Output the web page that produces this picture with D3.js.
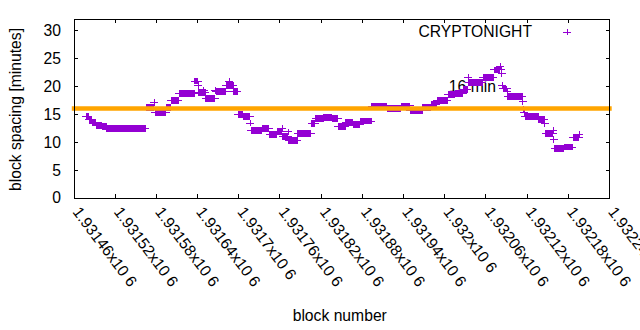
<!DOCTYPE html>
<html><head><meta charset="utf-8">
<script src="https://cdn.jsdelivr.net/npm/d3@7"></script>
<style>
html,body{margin:0;padding:0;background:#fff;}
text{font-family:"Liberation Sans",Arial,sans-serif;font-size:15.7px;fill:#000;}
</style></head><body>
<svg id="chart" width="640" height="330"></svg>
<script>
// ---- data ----
const seriesName = "CRYPTONIGHT";
// runs of consecutive blocks sharing the same block spacing value [minutes]
const runFirst = [1931478,1931482,1931487,1931493,1931501,1931508,1931565,1931577,1931578,1931595,1931602,1931613,1931636,1931641,1931642,1931649,1931652,1931666,1931667,1931682,1931686,1931693,1931699,1931707,1931717,1931718,1931734,1931745,1931756,1931763,1931764,1931772,1931773,1931786,1931806,1931812,1931824,1931836,1931845,1931856,1931867,1931877,1931894,1931916,1931937,1931950,1931968,1931980,1931989,1932005,1932015,1932027,1932034,1932035,1932056,1932072,1932081,1932082,1932083,1932084,1932085,1932091,1932092,1932114,1932115,1932116,1932117,1932137,1932146,1932147,1932158,1932159,1932160,1932174,1932187,1932196];
const runLast = [1931481,1931486,1931492,1931500,1931507,1931564,1931576,1931577,1931594,1931601,1931612,1931635,1931640,1931641,1931651,1931649,1931665,1931666,1931681,1931692,1931686,1931698,1931706,1931716,1931717,1931733,1931744,1931755,1931762,1931763,1931771,1931772,1931785,1931805,1931811,1931823,1931835,1931844,1931855,1931866,1931876,1931893,1931915,1931936,1931949,1931967,1931979,1931988,1932004,1932014,1932026,1932033,1932034,1932055,1932071,1932080,1932081,1932082,1932083,1932084,1932090,1932091,1932113,1932114,1932115,1932116,1932136,1932145,1932146,1932157,1932158,1932159,1932173,1932186,1932195,1932196];
const runSpacing = [14.5,14.1,13.4,13.0,12.8,12.45,16.25,17.1,15.25,16.2,17.45,18.7,20.9,20.1,18.8,19.3,17.85,19.25,19.0,20.05,20.8,19.0,14.95,14.5,13.4,12.05,12.4,11.4,11.9,12.5,10.95,11.8,10.35,11.6,13.3,14.15,14.45,14.2,12.8,13.55,13.15,13.75,16.3,16.05,16.45,15.7,16.15,16.75,17.4,18.5,18.75,19.45,21.55,20.7,21.55,22.9,23.5,22.9,22.3,20.2,19.5,19.05,18.2,17.25,15.9,15.3,14.6,14.1,13.3,11.5,12.1,10.4,8.8,9.1,10.85,11.3];

const thresholdMinutes = 16;
const thresholdLabel = "16 min";
const thresholdLabelBlock = 1932006;
const thresholdLabelValue = 20;

const xDomain = [1931460, 1932240];
const yDomain = [0, 32];
const xTickBlocks = [1931460,1931520,1931580,1931640,1931700,1931760,1931820,1931880,1931940,1932000,1932060,1932120,1932180,1932240];
const xTickLabels = ["1.93146x10 6","1.93152x10 6","1.93158x10 6","1.93164x10 6","1.9317x10 6","1.93176x10 6","1.93182x10 6","1.93188x10 6","1.93194x10 6","1.932x10 6","1.93206x10 6","1.93212x10 6","1.93218x10 6","1.93224x10 6"];
const yTicks = [0,5,10,15,20,25,30];
const xTitle = "block number";
const yTitle = "block spacing [minutes]";

// ---- layout ----
const svg = d3.select("#chart");
svg.append("rect").attr("width",640).attr("height",330).attr("fill","#fff");
const L = 74, R = 609.5, T = 19, B = 198;
const x = d3.scaleLinear().domain(xDomain).range([L, R]);
const y = d3.scaleLinear().domain(yDomain).range([B, T]);
const purple = "#9400d3", orange = "#ffa500";

// expand runs to points
const points = [];
runFirst.forEach((f, i) => {
  for (let b = f; b <= runLast[i]; b++) points.push({block: b, spacing: runSpacing[i]});
});

// threshold label (behind)
svg.append("text").attr("x", x(thresholdLabelBlock)).attr("y", y(thresholdLabelValue))
  .attr("dy","0.35em").text(thresholdLabel);

// points
const hx = 4, hy = 3.4;
const plusPath = d => {
  const px = x(d.block), py = y(d.spacing);
  return `M${px-hx},${py}H${px+hx}M${px},${py-hy}V${py+hy}`;
};
svg.append("path").attr("d", points.map(plusPath).join(""))
  .attr("stroke", purple).attr("stroke-width",1).attr("fill","none")
  .attr("shape-rendering","crispEdges");

// threshold line
svg.append("line").attr("x1", x(xDomain[0])).attr("x2", x(xDomain[1]))
  .attr("y1", y(thresholdMinutes)).attr("y2", y(thresholdMinutes))
  .attr("stroke", orange).attr("stroke-width", 4.4).attr("stroke-linecap","square");

// border
const g = svg.append("g").attr("shape-rendering","crispEdges");
g.append("rect").attr("x", L).attr("y", T).attr("width", R-L).attr("height", B-T)
  .attr("fill","none").attr("stroke","#000").attr("stroke-width",1);

// ticks (inward, mirrored)
const tk = 4;
xTickBlocks.forEach(v => {
  g.append("line").attr("x1",x(v)).attr("x2",x(v)).attr("y1",B).attr("y2",B-tk).attr("stroke","#000");
  g.append("line").attr("x1",x(v)).attr("x2",x(v)).attr("y1",T).attr("y2",T+tk).attr("stroke","#000");
});
yTicks.forEach(v => {
  g.append("line").attr("x1",L).attr("x2",L+tk).attr("y1",y(v)).attr("y2",y(v)).attr("stroke","#000");
  g.append("line").attr("x1",R).attr("x2",R-tk).attr("y1",y(v)).attr("y2",y(v)).attr("stroke","#000");
});

// y tick labels
yTicks.forEach(v => {
  svg.append("text").attr("x", 61).attr("y", y(v)).attr("dy","0.35em")
    .attr("text-anchor","end").text(v);
});

// x tick labels, rotated
xTickBlocks.forEach((v, i) => {
  const tx = x(v) - 2, ty = 212;
  svg.append("text").attr("transform", `translate(${tx},${ty}) rotate(53)`)
    .attr("text-anchor","start").text(xTickLabels[i]);
});

// axis titles
svg.append("text").attr("x", (L+R)/2 - 2).attr("y", 321).attr("text-anchor","middle").text(xTitle);
svg.append("text").attr("transform", `translate(21,${(T+B)/2+1}) rotate(-90)`)
  .attr("text-anchor","middle").text(yTitle);

// legend
svg.append("text").attr("x", 532).attr("y", 32).attr("dy","0.35em").attr("text-anchor","end").text(seriesName);
svg.append("path").attr("d", `M${567-hx},32H${567+hx}M567,${32-hy}V${32+hy}`)
  .attr("stroke", purple).attr("stroke-width",1).attr("shape-rendering","crispEdges");
</script>
</body></html>
